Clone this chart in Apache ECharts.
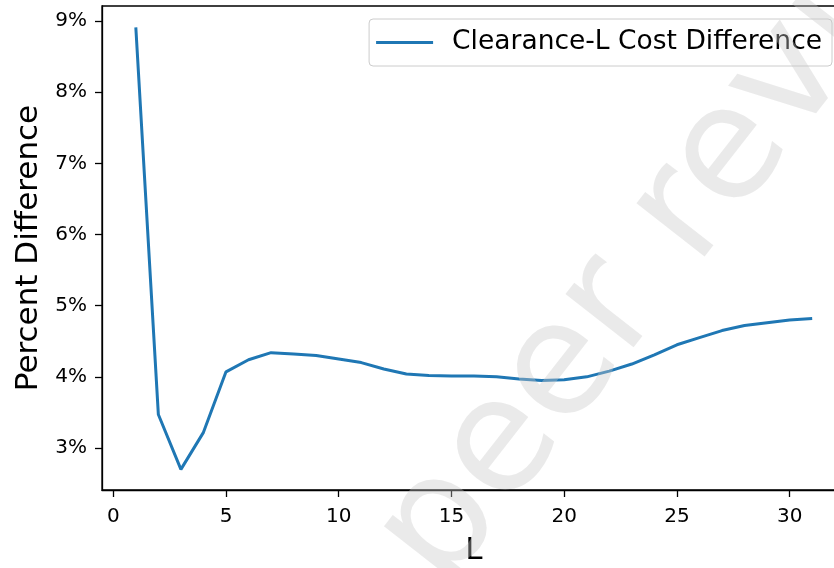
<!DOCTYPE html>
<html>
<head>
<meta charset="utf-8">
<script src="https://cdn.jsdelivr.net/npm/echarts@6/dist/echarts.min.js"></script>
<style>html,body{margin:0;padding:0;background:#fff;}#c{width:834px;height:568px;}</style>
</head>
<body>
<div id="c"></div>
<script>
const L = [1,2,3,4,5,6,7,8,9,10,11,12,13,14,15,16,17,18,19,20,21,22,23,24,25,26,27,28,29,30,31];
const costDiff = [8.91,3.47,2.70,3.22,4.07,4.24,4.34,4.32,4.30,4.25,4.20,4.11,4.04,4.02,4.01,4.01,4.00,3.97,3.95,3.96,4.00,4.08,4.18,4.31,4.45,4.55,4.65,4.72,4.76,4.80,4.82];
const xTicks = [0,5,10,15,20,25,30];
const yTicks = [3,4,5,6,7,8,9];
const seriesName = 'Clearance-L Cost Difference';

const FONT = 'DejaVu Sans';
const chart = echarts.init(document.getElementById('c'), null, {renderer:'canvas'});
chart.setOption({
  animation: false,
  backgroundColor: '#fff',
  grid: {left: 102, top: 6, width: 744, height: 484, outerBoundsMode: 'none', containLabel: false, show: true, borderColor: '#000', borderWidth: 1.3, backgroundColor: 'transparent'},
  legend: {
    right: 2, top: 19,
    data: [seriesName],
    icon: 'rect', itemWidth: 57, itemHeight: 3,
    padding: [10, 10, 10, 7],
    borderColor: '#cccccc', borderWidth: 1, borderRadius: 4,
    backgroundColor: 'rgba(255,255,255,0.8)',
    textStyle: {fontFamily: FONT, fontSize: 26.5, color: '#000', padding: [0,0,0,14]}
  },
  xAxis: {
    type: 'value', min: -0.5, max: 32.5,
    name: 'L', nameLocation: 'middle', nameGap: 45,
    nameTextStyle: {fontFamily: FONT, fontSize: 31, color: '#000'},
    axisLine: {show: true, onZero: false, lineStyle: {color: '#000', width: 1.3}},
    axisTick: {show: true, length: 7, lineStyle: {color: '#000', width: 1.3}, customValues: xTicks},
    axisLabel: {fontFamily: FONT, fontSize: 20, color: '#000', margin: 17, customValues: xTicks},
    splitLine: {show: false}
  },
  yAxis: {
    type: 'value', min: 2.41, max: 9.21,
    name: 'Percent Difference', nameLocation: 'middle', nameGap: 58, nameRotate: 90,
    nameTextStyle: {fontFamily: FONT, fontSize: 31, color: '#000'},
    axisLine: {show: true, onZero: false, lineStyle: {color: '#000', width: 1.3}},
    axisTick: {show: true, length: 7, lineStyle: {color: '#000', width: 1.3}, customValues: yTicks},
    axisLabel: {fontFamily: FONT, fontSize: 20, color: '#000', margin: 15, customValues: yTicks, formatter: v => v + '%'},
    splitLine: {show: false}
  },
  series: [{
    name: seriesName,
    type: 'line',
    data: L.map((x, i) => [x, costDiff[i]]),
    showSymbol: false, symbol: 'none',
    lineStyle: {color: '#1f77b4', width: 3},
    itemStyle: {color: '#1f77b4'}
  }],
  graphic: [{
    type: 'text', x: 698, y: 198, rotation: 52 * Math.PI / 180, z: 100,
    silent: true,
    style: {text: 'peer review', font: '158px "DejaVu Sans"', fill: 'rgba(200,200,200,0.38)', align: 'center', verticalAlign: 'middle'}
  }]
});
</script>
</body>
</html>
